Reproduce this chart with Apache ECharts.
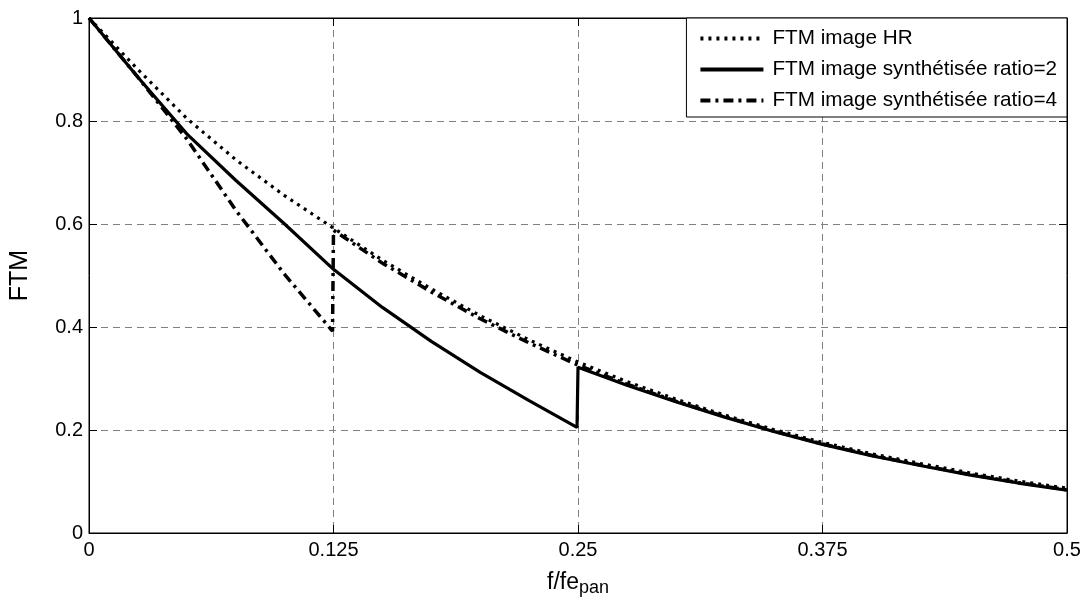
<!DOCTYPE html>
<html>
<head>
<meta charset="utf-8">
<script src="https://cdn.jsdelivr.net/npm/echarts@6/dist/echarts.min.js"></script>
<style>
html,body{margin:0;padding:0;background:#fff;}
#chart{width:1086px;height:602px;}
</style>
</head>
<body>
<div id="chart"></div>
<script>
// ---- data ----
var seriesNames = ['FTM image HR', 'FTM image synthétisée ratio=2', 'FTM image synthétisée ratio=4'];
var xTicks = [0, 0.125, 0.25, 0.375, 0.5];
var yTicks = [0, 0.2, 0.4, 0.6, 0.8, 1];

var fHR   = [0, 0.025, 0.05, 0.075, 0.1, 0.125, 0.15, 0.175, 0.2, 0.225, 0.25, 0.275, 0.3, 0.325, 0.35, 0.375, 0.4, 0.425, 0.45, 0.475, 0.5];
var ftmHR = [1.000, 0.900, 0.805, 0.725, 0.655, 0.592, 0.530, 0.474, 0.422, 0.375, 0.332, 0.294, 0.260, 0.229, 0.201, 0.176, 0.154, 0.135, 0.117, 0.101, 0.087];

var fR2   = [0, 0.025, 0.05, 0.075, 0.1, 0.125, 0.15, 0.175, 0.2, 0.225, 0.2495, 0.25, 0.275, 0.3, 0.325, 0.35, 0.375, 0.4, 0.425, 0.45, 0.475, 0.5];
var ftmR2 = [1.000, 0.885, 0.775, 0.685, 0.600, 0.512, 0.438, 0.372, 0.312, 0.257, 0.205, 0.322, 0.287, 0.255, 0.225, 0.197, 0.172, 0.150, 0.131, 0.113, 0.097, 0.083];

var fR4   = [0, 0.025, 0.05, 0.075, 0.1, 0.1245, 0.125, 0.15, 0.175, 0.2, 0.225, 0.25, 0.275, 0.3, 0.325, 0.35, 0.375, 0.4, 0.425, 0.45, 0.475, 0.5];
var ftmR4 = [1.000, 0.885, 0.765, 0.627, 0.502, 0.392, 0.588, 0.524, 0.468, 0.416, 0.369, 0.326, 0.289, 0.256, 0.226, 0.198, 0.173, 0.151, 0.132, 0.114, 0.098, 0.084];

function pairs(xs, ys) { return xs.map(function (x, i) { return [x, ys[i]]; }); }

var FONT = '"Liberation Sans", Arial, Helvetica, sans-serif';
var chart = echarts.init(document.getElementById('chart'), null, {renderer: 'canvas'});

var gridLine = {show: true, lineStyle: {color: '#808080', width: 1, type: [7, 5]}};

chart.setOption({
  animation: false,
  backgroundColor: '#fff',
  textStyle: {fontFamily: FONT, color: '#000'},
  grid: {left: 86, right: 19, top: 18, bottom: 69, containLabel: false, show: true, borderColor: '#000', borderWidth: 1},
  legend: {
    orient: 'vertical',
    right: 19, top: 18,
    backgroundColor: '#fff',
    borderColor: '#000', borderWidth: 1,
    padding: [10, 10, 6, 12],
    itemWidth: 63, itemHeight: 20, itemGap: 10,
    itemStyle: {opacity: 0},
    lineStyle: {width: 4},
    textStyle: {fontFamily: FONT, fontSize: 20.7, color: '#000', padding: [0, 0, 0, 4]},
    data: seriesNames
  },
  xAxis: [{
    type: 'value', min: 0, max: 0.5, interval: 0.125,
    name: '{a|f/fe}{b|pan}', nameLocation: 'middle', nameGap: 38,
    nameTextStyle: {
      rich: {
        a: {fontFamily: FONT, fontSize: 23, color: '#000', lineHeight: 26, verticalAlign: 'top'},
        b: {fontFamily: FONT, fontSize: 18, color: '#000', lineHeight: 20, verticalAlign: 'bottom', padding: [12, 0, 0, 0]}
      }
    },
    axisLine: {show: true, onZero: false, lineStyle: {color: '#000', width: 1}},
    axisTick: {show: true, inside: true, length: 8, lineStyle: {color: '#000'}},
    axisLabel: {fontFamily: FONT, fontSize: 20, color: '#000', margin: 7,
      customValues: xTicks},
    splitLine: gridLine
  }, {
    type: 'value', min: 0, max: 0.5, interval: 0.125, position: 'top',
    axisLine: {show: true, onZero: false, lineStyle: {color: '#000', width: 1}},
    axisTick: {show: true, inside: true, length: 8, lineStyle: {color: '#000'}},
    axisLabel: {show: false}, splitLine: {show: false}
  }],
  yAxis: [{
    type: 'value', min: 0, max: 1, interval: 0.2,
    name: 'FTM', nameLocation: 'middle', nameGap: 56, nameRotate: 90,
    nameTextStyle: {fontFamily: FONT, fontSize: 25, color: '#000'},
    axisLine: {show: true, onZero: false, lineStyle: {color: '#000', width: 1}},
    axisTick: {show: true, inside: true, length: 8, lineStyle: {color: '#000'}},
    axisLabel: {fontFamily: FONT, fontSize: 20, color: '#000', margin: 6},
    splitLine: gridLine
  }, {
    type: 'value', min: 0, max: 1, interval: 0.2, position: 'right',
    axisLine: {show: true, onZero: false, lineStyle: {color: '#000', width: 1}},
    axisTick: {show: true, inside: true, length: 8, lineStyle: {color: '#000'}},
    axisLabel: {show: false}, splitLine: {show: false}
  }],
  series: [{
    name: seriesNames[0], type: 'line', symbol: 'none', z: 3,
    data: pairs(fHR, ftmHR),
    lineStyle: {color: '#000', width: 3.2, type: [3, 5]},
    itemStyle: {color: '#000'}
  }, {
    name: seriesNames[1], type: 'line', symbol: 'none', z: 4,
    data: pairs(fR2, ftmR2),
    lineStyle: {color: '#000', width: 3.2, type: 'solid'},
    itemStyle: {color: '#000'}
  }, {
    name: seriesNames[2], type: 'line', symbol: 'none', z: 5,
    data: pairs(fR4, ftmR4),
    lineStyle: {color: '#000', width: 3.5, type: [10, 5, 3, 5]},
    itemStyle: {color: '#000'}
  }]
});
</script>
</body>
</html>
